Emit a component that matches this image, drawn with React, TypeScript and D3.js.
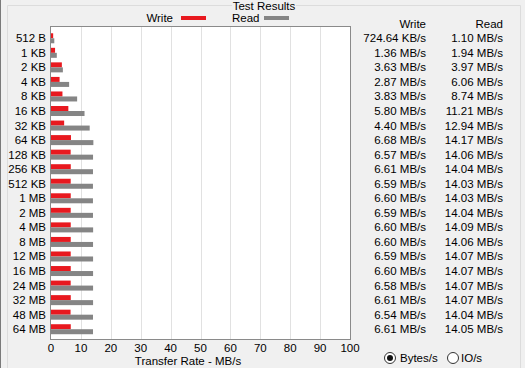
import React from "react";
import * as d3 from "d3";

const categories = ["512 B","1 KB","2 KB","4 KB","8 KB","16 KB","32 KB","64 KB","128 KB","256 KB","512 KB","1 MB","2 MB","4 MB","8 MB","12 MB","16 MB","24 MB","32 MB","48 MB","64 MB"];
const writeValues = [0.72464,1.36,3.63,2.87,3.83,5.80,4.40,6.68,6.57,6.61,6.59,6.60,6.59,6.60,6.60,6.59,6.60,6.58,6.61,6.54,6.61];
const readValues = [1.10,1.94,3.97,6.06,8.74,11.21,12.94,14.17,14.06,14.04,14.03,14.03,14.04,14.09,14.06,14.07,14.07,14.07,14.07,14.04,14.05];
const writeLabels = ["724.64 KB/s","1.36 MB/s","3.63 MB/s","2.87 MB/s","3.83 MB/s","5.80 MB/s","4.40 MB/s","6.68 MB/s","6.57 MB/s","6.61 MB/s","6.59 MB/s","6.60 MB/s","6.59 MB/s","6.60 MB/s","6.60 MB/s","6.59 MB/s","6.60 MB/s","6.58 MB/s","6.61 MB/s","6.54 MB/s","6.61 MB/s"];
const readLabels = ["1.10 MB/s","1.94 MB/s","3.97 MB/s","6.06 MB/s","8.74 MB/s","11.21 MB/s","12.94 MB/s","14.17 MB/s","14.06 MB/s","14.04 MB/s","14.03 MB/s","14.03 MB/s","14.04 MB/s","14.09 MB/s","14.06 MB/s","14.07 MB/s","14.07 MB/s","14.07 MB/s","14.07 MB/s","14.04 MB/s","14.05 MB/s"];
const xTicks = [0,10,20,30,40,50,60,70,80,90,100];

const W = 525, H = 368;
const FONT = "'Liberation Sans', Arial, sans-serif";
const RED = "#e8191f";
const GREY = "#858585";

export default function App() {
  const plot = { left: 51, right: 350, top: 27, bottom: 339 };
  const x = d3.scaleLinear().domain([0, 100]).range([plot.left, plot.right]);
  const y = d3.scaleBand<string>().domain(categories).range([31, 336.5]).padding(0);
  const barH = 5;
  return (
    <svg width={W} height={H} style={{ position: "absolute", left: 0, top: 0, fontFamily: FONT }}>
      <rect x={0} y={0} width={W} height={H} fill="#f0f0f0" />
      <line x1={0.5} y1={0} x2={0.5} y2={H} stroke="#7a7a7a" />
      {/* group box */}
      <path d={`M7.5,${H} V5.5 H232 M296,5.5 H520.5 V${H}`} fill="none" stroke="#dcdcdc" />
      <text x={264} y={10} textAnchor="middle" fontSize={11.5} fill="#000">Test Results</text>
      {/* legend */}
      <text x={173} y={22} textAnchor="end" fontSize={11.5} fill="#000">Write</text>
      <rect x={181} y={16} width={25} height={4} fill={RED} />
      <text x={232} y={22} fontSize={11.5} fill="#000">Read</text>
      <rect x={264} y={16} width={25} height={4} fill={GREY} />
      {/* plot */}
      <rect x={plot.left} y={plot.top} width={plot.right - plot.left} height={plot.bottom - plot.top} fill="#fff" />
      {xTicks.slice(1, -1).map(t => (
        <line key={t} x1={Math.round(x(t)) + 0.5} x2={Math.round(x(t)) + 0.5} y1={plot.top} y2={plot.bottom} stroke="#e1e1e1" />
      ))}
      {categories.map((c, i) => {
        const cy = (y(c) as number) + y.bandwidth() / 2;
        return (
          <g key={c}>
            <rect x={x(0)} y={cy - barH} width={x(writeValues[i]) - x(0)} height={barH} fill={RED} />
            <rect x={x(0)} y={cy} width={x(readValues[i]) - x(0)} height={barH} fill={GREY} />
            <text x={46} y={cy + 4} textAnchor="end" fontSize={11.5} fill="#000">{c}</text>
            <text x={426} y={cy + 4} textAnchor="end" fontSize={11.5} fill="#000">{writeLabels[i]}</text>
            <text x={503} y={cy + 4} textAnchor="end" fontSize={11.5} fill="#000">{readLabels[i]}</text>
          </g>
        );
      })}
      <rect x={plot.left - 0.5} y={plot.top - 0.5} width={plot.right - plot.left + 1} height={plot.bottom - plot.top + 1} fill="none" stroke="#8a8a8a" />
      {xTicks.map(t => (
        <text key={t} x={x(t)} y={352} textAnchor="middle" fontSize={11.5} fill="#000">{t}</text>
      ))}
      <text x={188} y={365} textAnchor="middle" fontSize={11.5} fill="#000">Transfer Rate - MB/s</text>
      {/* headers */}
      <text x={426} y={28} textAnchor="end" fontSize={11.5} fill="#000">Write</text>
      <text x={503} y={28} textAnchor="end" fontSize={11.5} fill="#000">Read</text>
      {/* radio buttons */}
      <circle cx={390} cy={358} r={5.5} fill="#fff" stroke="#333" />
      <circle cx={390} cy={358} r={3} fill="#111" />
      <text x={400} y={362} fontSize={11.5} fill="#000">Bytes/s</text>
      <circle cx={453} cy={358} r={5.5} fill="#fff" stroke="#333" />
      <text x={461} y={362} fontSize={11.5} fill="#000">IO/s</text>
    </svg>
  );
}
